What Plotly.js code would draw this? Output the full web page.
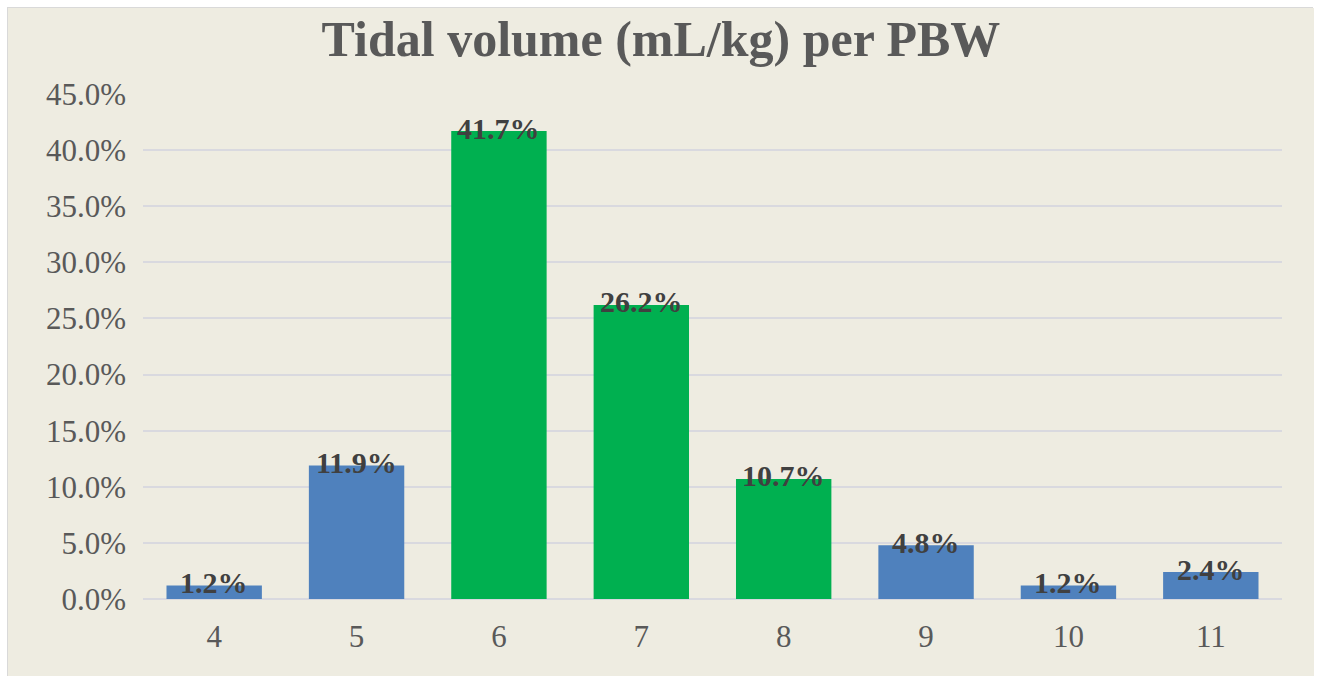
<!DOCTYPE html>
<html>
<head>
<meta charset="utf-8">
<script src="https://cdn.plot.ly/plotly-3.0.1.min.js"></script>
<style>
  html, body { margin: 0; padding: 0; background: #ffffff; width: 1319px; height: 676px; overflow: hidden; }
  #chart { position: absolute; left: 7px; top: 7px; width: 1306px; height: 669px; border: 1px solid #d9d9d9; border-bottom: none; box-sizing: border-box; }
</style>
</head>
<body>
<div id="chart"></div>
<script>
// Data
const categories = ['4', '5', '6', '7', '8', '9', '10', '11'];
const values = [1.2, 11.9, 41.7, 26.2, 10.7, 4.8, 1.2, 2.4];
const labels = ['1.2%', '11.9%', '41.7%', '26.2%', '10.7%', '4.8%', '1.2%', '2.4%'];
const highlighted = [false, false, true, true, true, false, false, false];
const yTicks = [0, 5, 10, 15, 20, 25, 30, 35, 40, 45];
const yTickText = ['0.0%', '5.0%', '10.0%', '15.0%', '20.0%', '25.0%', '30.0%', '35.0%', '40.0%', '45.0%'];

const BLUE = '#4f81bd';
const GREEN = '#00b050';
const SERIF = 'Liberation Serif, DejaVu Serif, serif';

const trace = {
  type: 'bar',
  x: categories,
  y: values,
  marker: { color: highlighted.map(h => h ? GREEN : BLUE), line: { width: 0 } },
  hoverinfo: 'x+y',
  showlegend: false
};

const annotations = categories.map((c, i) => ({
  x: i, y: values[i], xref: 'x', yref: 'y',
  text: labels[i], showarrow: false,
  yanchor: 'middle', yshift: 3,
  font: { family: SERIF, size: 30, color: '#404040', weight: 'bold' }
}));

const layout = {
  width: 1306, height: 669,
  paper_bgcolor: '#eeece1',
  plot_bgcolor: '#eeece1',
  margin: { l: 135, r: 32, t: 86, b: 78, pad: 0 },
  title: {
    text: '<b>Tidal volume (mL/kg) per PBW</b>',
    x: 0.5, xanchor: 'center', xref: 'container',
    y: 0.955, yanchor: 'middle', yref: 'container',
    font: { family: SERIF, size: 50, color: '#595959' }
  },
  bargap: 0.33,
  xaxis: {
    type: 'category',
    showgrid: false, showline: false, zeroline: false,
    ticks: 'outside', ticklen: 10, tickcolor: 'rgba(0,0,0,0)',
    tickfont: { family: SERIF, size: 31, color: '#595959' }
  },
  yaxis: {
    range: [0, 45],
    tickvals: yTicks,
    ticktext: yTickText,
    showgrid: true, gridcolor: '#d9d9df', gridwidth: 2,
    zeroline: true, zerolinecolor: '#d9d9df', zerolinewidth: 2,
    showline: false,
    ticklabelstandoff: 16,
    tickfont: { family: SERIF, size: 31, color: '#595959' }
  },
  annotations: annotations
};

Plotly.newPlot('chart', [trace], layout, { displayModeBar: false, staticPlot: true });
</script>
</body>
</html>
